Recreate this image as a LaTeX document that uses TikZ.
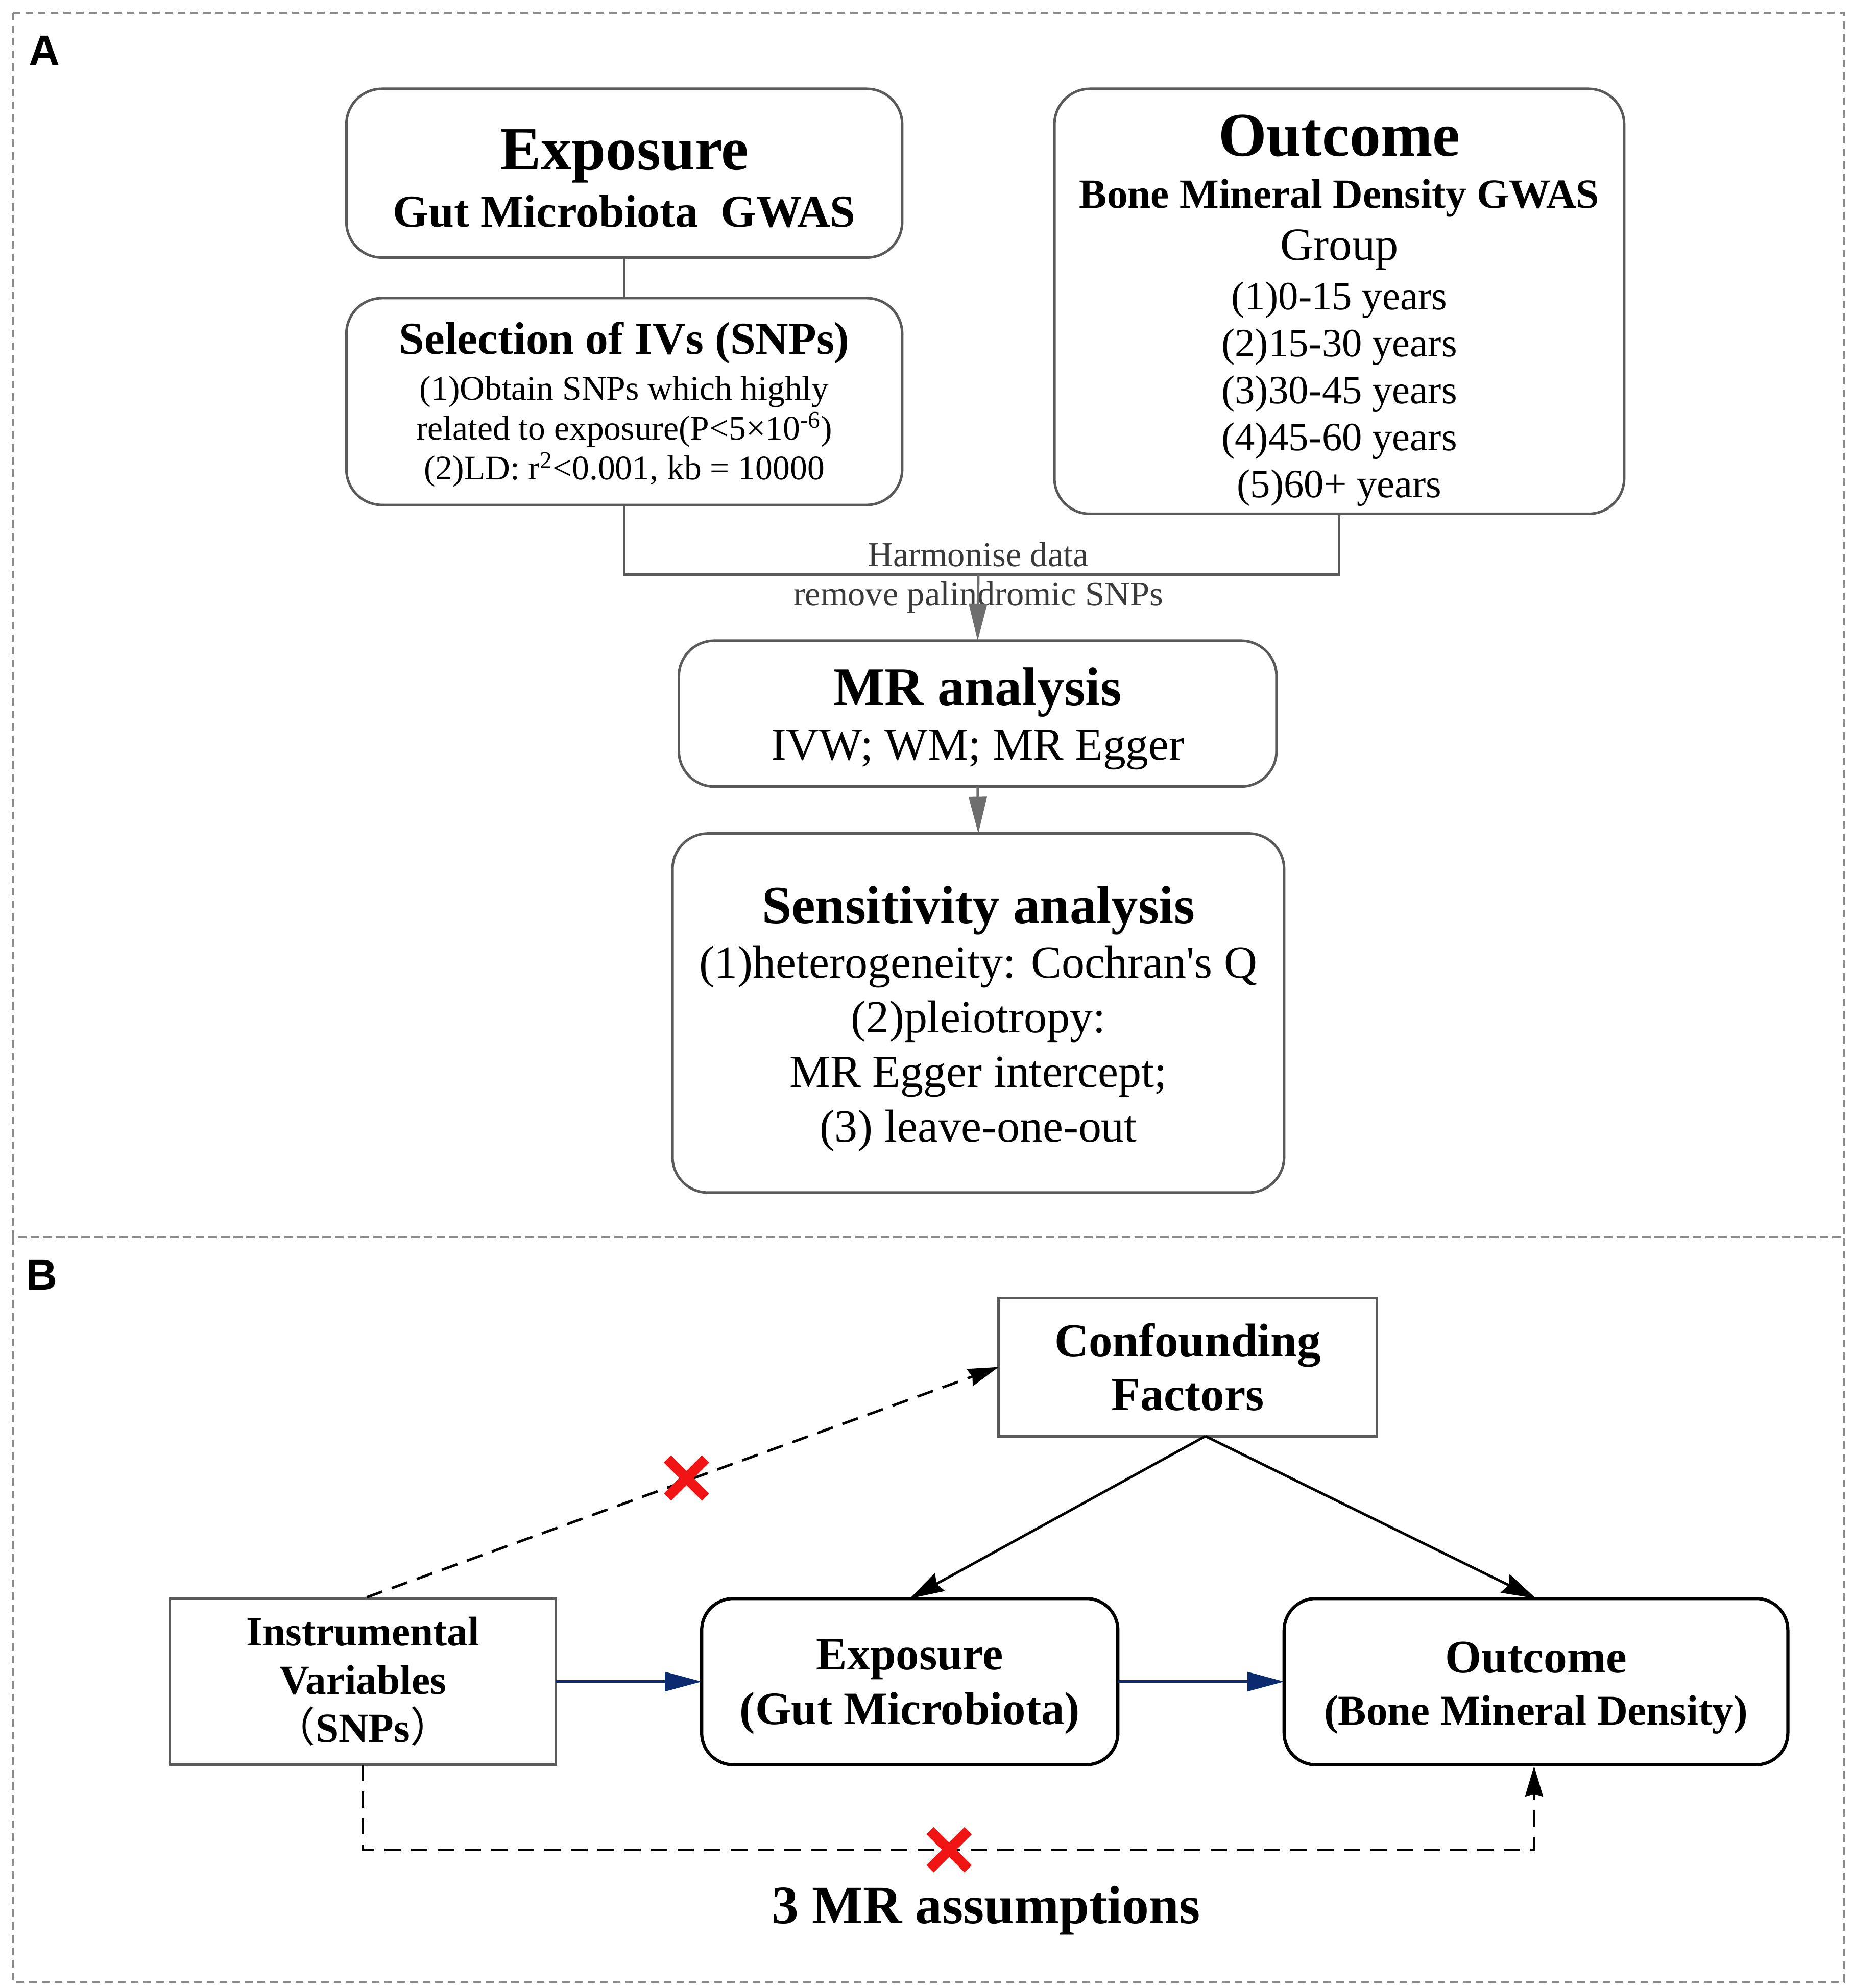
\documentclass[tikz,border=0pt]{standalone}
\usepackage{fontspec}
\newfontfamily\tnr{Liberation Serif}
\newfontfamily\lsans{Liberation Sans}
\newfontfamily\cjk{Noto Sans CJK SC}
\usetikzlibrary{arrows.meta,shapes.misc,calc}
\definecolor{boxgray}{HTML}{5A5A5A}
\definecolor{arrgray}{HTML}{6E6E6E}
\definecolor{navyc}{HTML}{0B2A6F}
\definecolor{framegray}{HTML}{8C8C8C}
\definecolor{xred}{HTML}{F01414}
\definecolor{labgray}{HTML}{3A3A3A}
\newcommand\fsz[2]{\fontsize{#1}{#2}\selectfont\lineskiplimit=-1000pt\relax}
\newcommand\topgap[1]{\rule{0pt}{#1pt}}
\begin{document}
\begin{tikzpicture}[x=1pt,y=-1pt,
  every node/.style={inner sep=0pt, outer sep=0pt},
  boxa/.style={draw=boxgray, line width=2pt, rounded corners=28pt, fill=white, align=center},
  boxb/.style={draw=black, line width=2.5pt, rounded corners=25pt, fill=white, align=center},
  sqb/.style={draw=boxgray, line width=2pt, fill=white, align=center},
  arra/.style={draw=arrgray, line width=2pt, -{Triangle[length=29pt,width=14pt,fill=arrgray]}},
  plaina/.style={draw=boxgray, line width=2pt},
  arrb/.style={draw=black, line width=2pt, -{Stealth[length=27pt,width=16pt,inset=3pt]}},
  arrnavy/.style={draw=navyc, line width=2pt, -{Triangle[length=29pt,width=15pt]}},
  dashb/.style={draw=black, line width=2pt, dash pattern=on 13pt off 8pt},
  dashtip/.style={-{Stealth[length=24pt,width=14pt,inset=2pt]}},
  redx/.style={cross out, draw=xred, line width=8pt, minimum size=30pt},
  frame/.style={draw=framegray, line width=1.6pt, dash pattern=on 6pt off 4pt},
  panellabel/.style={font=\lsans\bfseries\fsz{34}{34}},
  note/.style={text=labgray, font=\tnr\fsz{27.6}{30}}
]
\useasboundingbox (0,0) rectangle (1460,1567);
\fill[white] (0,0) rectangle (1460,1567);

% frames
\draw[frame] (10,10) rectangle (1453,975);
\draw[frame] (10,975) rectangle (1453,1562);
\node[panellabel] (lblA) at (35,40) {A};
\node[panellabel] (lblB) at (33,1005) {B};

% ---------------- Panel A ----------------
\node[boxa, minimum width=438, minimum height=133, font=\tnr\bfseries\fsz{36}{45}] (expA) at (492,136.5)
  {\topgap{40}{\fsz{48.5}{45}Exposure}\\Gut Microbiota\ \ GWAS};
\node[boxa, minimum width=438, minimum height=163, font=\tnr\fsz{27.2}{31.5}] (selA) at (492,316.5)
  {\topgap{30}{\bfseries\fsz{36}{31}Selection of IVs (SNPs)}\\[4.5pt](1)Obtain SNPs which highly\\related to exposure(P<5×10\textsuperscript{-6})\\(2)LD: r\textsuperscript{2}<0.001, kb = 10000};
\node[boxa, minimum width=449, minimum height=335, font=\tnr\fsz{31.7}{37}] (outA) at (1055.5,237.5)
  {\topgap{47}{\bfseries\fsz{49}{37}Outcome}\\[4pt]{\bfseries\fsz{32.7}{37}Bone Mineral Density GWAS}\\[4pt]{\fsz{36.4}{37}Group}\\[2pt](1)0-15 years\\(2)15-30 years\\(3)30-45 years\\(4)45-60 years\\(5)60+ years};
\node[boxa, minimum width=471, minimum height=115, font=\tnr\fsz{36}{43}] (mrA) at (770.5,562.5)
  {\topgap{38}{\bfseries\fsz{42.8}{43}MR analysis}\\IVW; WM; MR Egger};
\node[boxa, minimum width=482, minimum height=283, font=\tnr\fsz{36.2}{43}] (senA) at (771,798.5)
  {\topgap{38.5}{\bfseries\fsz{42.2}{43}Sensitivity analysis}\\(1)heterogeneity: Cochran's Q\\(2)pleiotropy:\\MR Egger intercept;\\(3) leave-one-out};

\coordinate (hm) at (771,453);
\node[note] (harm) at (771,437) {Harmonise data};
\node[note] (pal) at (771,471) {remove palindromic SNPs};

\draw[plaina] (expA) -- (selA);
\draw[plaina] (selA.south) |- (hm) -| (outA.south);
\draw[arra] (hm) -- (mrA.north);
\draw[arra] (mrA.south) -- (senA.north);

% ---------------- Panel B ----------------
\node[sqb, minimum width=298, minimum height=109, font=\tnr\bfseries\fsz{37.4}{42}] (conf) at (936,1077.5)
  {Confounding\\Factors};
\node[sqb, minimum width=304, minimum height=131, font=\tnr\bfseries\fsz{32.7}{38}] (iv) at (286,1325.5)
  {Instrumental\\Variables\\{\cjk\mdseries （}SNPs{\cjk\mdseries ）}};
\node[boxb, minimum width=328, minimum height=131, font=\tnr\bfseries\fsz{36.5}{43}] (expB) at (717,1325.5)
  {\topgap{32.2}Exposure\\(Gut Microbiota)};
\node[boxb, minimum width=397, minimum height=131, font=\tnr\bfseries\fsz{33.4}{41}] (outB) at (1210.5,1325.5)
  {\topgap{34}{\fsz{36.8}{41}Outcome}\\(Bone Mineral Density)};

\coordinate (apex) at (950,1132);
\coordinate (ivtop) at (289,1259);
\coordinate (bottomL) at (286,1458);
\coordinate (bottomR) at (1209,1458);
\coordinate (outBbot) at (1209,1392);

\draw[dashb, dashtip] (ivtop) -- (conf.west);
\draw[arrb] (apex) -- (expB.north);
\draw[arrb] (apex) -- (outB.north);
\draw[arrnavy] (iv.east) -- (expB.west);
\draw[arrnavy] (expB.east) -- (outB.west);
\draw[dashb, dashtip] (iv.south) -- (bottomL) -- (bottomR) -- (outBbot);

\node[redx] (x1) at (541,1165) {};
\node[redx] (x2) at (748,1458) {};

\node[font=\tnr\bfseries\fsz{42.5}{43}] (assump) at (777,1506) {3 MR assumptions};
\end{tikzpicture}
\end{document}
